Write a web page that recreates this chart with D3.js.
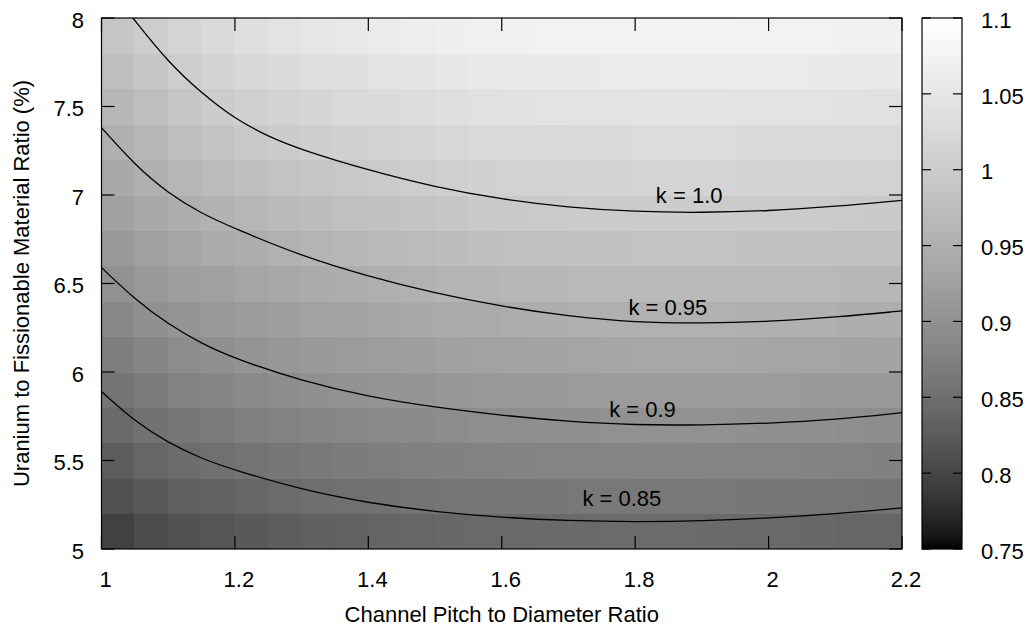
<!DOCTYPE html>
<html>
<head>
<meta charset="utf-8">
<script src="https://cdn.jsdelivr.net/npm/d3@7"></script>
<style>
  body { margin: 0; background: #fff; }
  text { font-family: "Liberation Sans", Arial, Helvetica, sans-serif; fill: #000; }
</style>
</head>
<body>
<div id="chart"></div>
<script>
// grid nodes (cell edges)
var xNodes = [1, 1.05, 1.1, 1.15, 1.2, 1.25, 1.3, 1.35, 1.4, 1.45, 1.5, 1.55, 1.6,
              1.65, 1.7, 1.75, 1.8, 1.85, 1.9, 1.95, 2, 2.05, 2.1, 2.15, 2.2];
var yNodes = [5, 5.2, 5.4, 5.6, 5.8, 6, 6.2, 6.4, 6.6, 6.8, 7, 7.2, 7.4, 7.6, 7.8, 8];

// k value of each cell, one row per y band (bottom to top)
var kGrid = [
  [0.795,0.806,0.813,0.817,0.822,0.827,0.831,0.834,0.837,0.839,0.841,0.842,0.843,0.844,0.844,0.845,0.845,0.845,0.844,0.843,0.842,0.841,0.839,0.838],
  [0.811,0.822,0.829,0.834,0.839,0.845,0.849,0.852,0.855,0.857,0.859,0.860,0.861,0.862,0.863,0.863,0.863,0.863,0.863,0.862,0.861,0.860,0.859,0.857],
  [0.827,0.838,0.846,0.852,0.856,0.861,0.865,0.869,0.871,0.874,0.876,0.877,0.879,0.880,0.881,0.881,0.882,0.882,0.881,0.881,0.880,0.879,0.877,0.876],
  [0.843,0.854,0.861,0.867,0.873,0.877,0.882,0.885,0.888,0.890,0.893,0.895,0.896,0.898,0.899,0.900,0.900,0.900,0.900,0.899,0.899,0.898,0.896,0.894],
  [0.857,0.869,0.877,0.883,0.889,0.894,0.898,0.901,0.904,0.907,0.909,0.911,0.913,0.914,0.916,0.917,0.917,0.917,0.917,0.917,0.916,0.915,0.914,0.912],
  [0.872,0.883,0.892,0.899,0.904,0.909,0.913,0.916,0.919,0.922,0.925,0.927,0.929,0.931,0.933,0.934,0.935,0.935,0.935,0.934,0.933,0.932,0.931,0.929],
  [0.886,0.898,0.906,0.913,0.918,0.923,0.927,0.931,0.934,0.938,0.941,0.943,0.946,0.948,0.950,0.951,0.952,0.952,0.952,0.951,0.951,0.950,0.948,0.947],
  [0.900,0.911,0.920,0.926,0.932,0.937,0.942,0.946,0.950,0.953,0.957,0.960,0.962,0.964,0.966,0.967,0.968,0.968,0.968,0.967,0.967,0.966,0.964,0.963],
  [0.913,0.924,0.933,0.940,0.946,0.952,0.957,0.962,0.966,0.970,0.973,0.976,0.978,0.980,0.982,0.983,0.984,0.984,0.984,0.983,0.983,0.982,0.981,0.979],
  [0.926,0.938,0.947,0.954,0.961,0.968,0.973,0.978,0.982,0.986,0.990,0.993,0.995,0.997,0.998,0.999,1.000,1.000,1.000,0.999,0.999,0.998,0.997,0.995],
  [0.939,0.951,0.961,0.969,0.977,0.984,0.990,0.994,0.999,1.003,1.006,1.009,1.011,1.012,1.013,1.014,1.015,1.015,1.015,1.014,1.014,1.013,1.012,1.011],
  [0.951,0.964,0.975,0.984,0.993,1.000,1.005,1.010,1.014,1.018,1.021,1.024,1.026,1.027,1.028,1.029,1.030,1.030,1.030,1.029,1.029,1.028,1.027,1.026],
  [0.963,0.976,0.989,1.000,1.008,1.014,1.020,1.024,1.029,1.033,1.037,1.040,1.042,1.043,1.043,1.044,1.045,1.045,1.045,1.044,1.044,1.043,1.042,1.041],
  [0.975,0.989,1.002,1.013,1.022,1.029,1.034,1.039,1.044,1.048,1.052,1.055,1.057,1.058,1.058,1.059,1.060,1.060,1.060,1.059,1.059,1.058,1.057,1.056],
  [0.987,1.002,1.015,1.027,1.036,1.043,1.049,1.054,1.059,1.063,1.067,1.070,1.072,1.073,1.073,1.074,1.075,1.075,1.075,1.074,1.074,1.073,1.072,1.071]
];

// contour lines
var contourLevels = ["1.0", "0.95", "0.9", "0.85"];
var contourX = [
  [1.047, 1.1, 1.15, 1.2, 1.25, 1.3, 1.4, 1.5, 1.6, 1.7, 1.8, 1.9, 2.0, 2.1, 2.2],
  [1.0, 1.05, 1.1, 1.15, 1.2, 1.3, 1.4, 1.5, 1.6, 1.7, 1.8, 1.9, 2.0, 2.1, 2.2],
  [1.0, 1.05, 1.1, 1.15, 1.2, 1.3, 1.4, 1.5, 1.6, 1.7, 1.8, 1.9, 2.0, 2.1, 2.2],
  [1.0, 1.05, 1.1, 1.15, 1.2, 1.3, 1.4, 1.5, 1.6, 1.7, 1.8, 1.9, 2.0, 2.1, 2.2]
];
var contourY = [
  [8.0, 7.75, 7.575, 7.43, 7.33, 7.255, 7.14, 7.045, 6.975, 6.93, 6.905, 6.90, 6.91, 6.935, 6.97],
  [7.38, 7.17, 7.01, 6.895, 6.81, 6.655, 6.54, 6.445, 6.37, 6.315, 6.28, 6.275, 6.285, 6.31, 6.345],
  [6.59, 6.41, 6.27, 6.16, 6.075, 5.95, 5.86, 5.80, 5.755, 5.72, 5.70, 5.70, 5.71, 5.73, 5.77],
  [5.89, 5.72, 5.60, 5.51, 5.445, 5.335, 5.26, 5.21, 5.178, 5.16, 5.153, 5.158, 5.175, 5.198, 5.232]
];
var labelX = [1.881, 1.849, 1.811, 1.78];
var labelY = [7.0, 6.367, 5.791, 5.288];

var xTicks = [1, 1.2, 1.4, 1.6, 1.8, 2, 2.2];
var yTicks = [5, 5.5, 6, 6.5, 7, 7.5, 8];
var cbTicks = [0.75, 0.8, 0.85, 0.9, 0.95, 1, 1.05, 1.1];

var W = 1033, H = 629;
var plot = {left: 101.5, right: 902, top: 18, bottom: 549};
var cb = {left: 922, right: 962};
var fs = "22px";

var x = d3.scaleLinear().domain([1, 2.2]).range([plot.left, plot.right]);
var y = d3.scaleLinear().domain([5, 8]).range([plot.bottom, plot.top]);
var kScale = d3.scaleLinear().domain([0.75, 1.1]).range([0, 1]).clamp(true);
var cbY = d3.scaleLinear().domain([0.75, 1.1]).range([plot.bottom, plot.top]);

// gnuplot gray palette, gamma 1.5
function gray(k) {
    var v = Math.round(255 * Math.pow(kScale(k), 1 / 1.5));
    return d3.rgb(v, v, v).toString();
}

var svg = d3.select("#chart").append("svg")
    .attr("width", W)
    .attr("height", H);

// cells
var cells = [];
for (var j = 0; j < kGrid.length; j++) {
    for (var i = 0; i < kGrid[j].length; i++) {
        cells.push({x0: xNodes[i], x1: xNodes[i + 1], y0: yNodes[j], y1: yNodes[j + 1], k: kGrid[j][i]});
    }
}

svg.append("g").selectAll("rect")
    .data(cells)
    .enter().append("rect")
    .attr("x", function(d) { return Math.floor(x(d.x0)); })
    .attr("y", function(d) { return Math.floor(y(d.y1)); })
    .attr("width", function(d) { return Math.ceil(x(d.x1)) - Math.floor(x(d.x0)); })
    .attr("height", function(d) { return Math.ceil(y(d.y0)) - Math.floor(y(d.y1)); })
    .attr("shape-rendering", "crispEdges")
    .style("fill", function(d) { return gray(d.k); });

// contours
var line = d3.line()
    .x(function(d) { return x(d[0]); })
    .y(function(d) { return y(d[1]); })
    .curve(d3.curveBasis);

var contours = contourLevels.map(function(lv, n) {
    return {level: lv, pts: contourX[n].map(function(v, m) { return [v, contourY[n][m]]; })};
});

svg.append("g").selectAll("path")
    .data(contours)
    .enter().append("path")
    .attr("d", function(d) { return line(d.pts); })
    .style("fill", "none")
    .style("stroke", "#000")
    .style("stroke-width", 1.3);

svg.append("g").selectAll("text")
    .data(contourLevels)
    .enter().append("text")
    .attr("x", function(d, n) { return x(labelX[n]); })
    .attr("y", function(d, n) { return y(labelY[n]); })
    .attr("dy", "0.35em")
    .attr("text-anchor", "middle")
    .style("font-size", fs)
    .text(function(d) { return "k = " + d; });

// plot frame + mirrored ticks
var axes = svg.append("g").style("stroke", "#000").style("stroke-width", 1.2);
axes.append("rect")
    .attr("x", plot.left).attr("y", plot.top)
    .attr("width", plot.right - plot.left).attr("height", plot.bottom - plot.top)
    .style("fill", "none");

var tl = 13;
xTicks.forEach(function(t) {
    axes.append("line").attr("x1", x(t)).attr("x2", x(t)).attr("y1", plot.bottom).attr("y2", plot.bottom - tl);
    axes.append("line").attr("x1", x(t)).attr("x2", x(t)).attr("y1", plot.top).attr("y2", plot.top + tl);
});
yTicks.forEach(function(t) {
    axes.append("line").attr("x1", plot.left).attr("x2", plot.left + tl).attr("y1", y(t)).attr("y2", y(t));
    axes.append("line").attr("x1", plot.right).attr("x2", plot.right - tl).attr("y1", y(t)).attr("y2", y(t));
});

svg.append("g").selectAll("text")
    .data(xTicks)
    .enter().append("text")
    .attr("x", function(d) { return x(d) + 4; })
    .attr("y", 587)
    .attr("text-anchor", "middle")
    .style("font-size", fs)
    .text(function(d) { return String(d); });

svg.append("g").selectAll("text")
    .data(yTicks)
    .enter().append("text")
    .attr("x", 84)
    .attr("y", function(d) { return y(d) + 2; })
    .attr("dy", "0.35em")
    .attr("text-anchor", "end")
    .style("font-size", fs)
    .text(function(d) { return String(d); });

svg.append("text")
    .attr("x", (plot.left + plot.right) / 2)
    .attr("y", 622)
    .attr("text-anchor", "middle")
    .style("font-size", fs)
    .text("Channel Pitch to Diameter Ratio");

svg.append("text")
    .attr("transform", "translate(29," + (plot.top + plot.bottom) / 2 + ") rotate(-90)")
    .attr("text-anchor", "middle")
    .style("font-size", fs)
    .text("Uranium to Fissionable Material Ratio (%)");

// colour box
var defs = svg.append("defs");
var grad = defs.append("linearGradient")
    .attr("id", "cbGrad")
    .attr("x1", 0).attr("y1", 1).attr("x2", 0).attr("y2", 0);
d3.range(0, 1.0001, 0.02).forEach(function(t) {
    grad.append("stop")
        .attr("offset", t)
        .attr("stop-color", gray(0.75 + t * 0.35));
});

svg.append("rect")
    .attr("x", cb.left).attr("y", plot.top)
    .attr("width", cb.right - cb.left).attr("height", plot.bottom - plot.top)
    .style("fill", "url(#cbGrad)")
    .style("stroke", "#000")
    .style("stroke-width", 1.2);

var ctl = 9;
var cbAxis = svg.append("g").style("stroke", "#000").style("stroke-width", 1.2);
cbTicks.forEach(function(t) {
    cbAxis.append("line").attr("x1", cb.left).attr("x2", cb.left + ctl).attr("y1", cbY(t)).attr("y2", cbY(t));
    cbAxis.append("line").attr("x1", cb.right).attr("x2", cb.right - ctl).attr("y1", cbY(t)).attr("y2", cbY(t));
});

svg.append("g").selectAll("text")
    .data(cbTicks)
    .enter().append("text")
    .attr("x", 981)
    .attr("y", function(d) { return cbY(d) + 2; })
    .attr("dy", "0.35em")
    .attr("text-anchor", "start")
    .style("font-size", fs)
    .text(function(d) { return String(+d.toFixed(2)); });
</script>
</body>
</html>
